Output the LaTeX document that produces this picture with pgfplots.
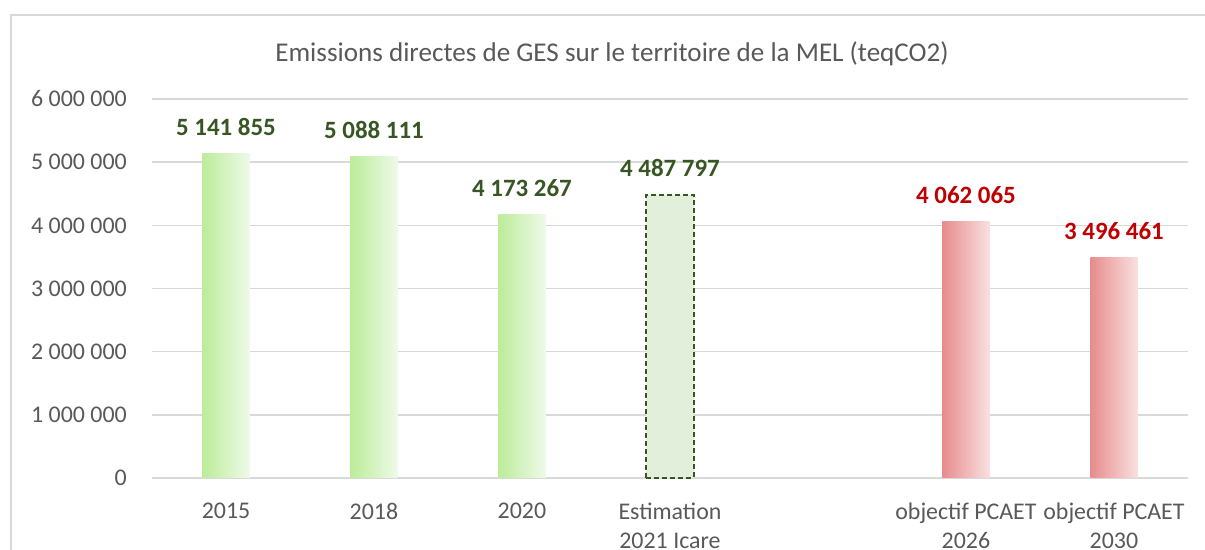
\documentclass[border=0pt]{standalone}
\usepackage{pgfplots}
\pgfplotsset{compat=1.18}
\usepackage{fontspec}
\setmainfont{Carlito}
\definecolor{txt}{HTML}{595959}
\definecolor{gridc}{HTML}{D9D9D9}
\definecolor{gL}{HTML}{BCEC9A}
\definecolor{gR}{HTML}{EEFAE8}
\definecolor{rL}{HTML}{E78C8C}
\definecolor{rR}{HTML}{F9E0E0}
\definecolor{estF}{HTML}{E2EFDA}
\definecolor{dg}{HTML}{375623}
\definecolor{dr}{HTML}{C00000}
\begin{document}
\begin{tikzpicture}
\useasboundingbox (0,0) rectangle (1205bp,550bp);
\fill[white] (0,0) rectangle (1205bp,550bp);
\draw[gridc, line width=2bp] (11bp,0) -- (11bp,535bp) -- (1205bp,535bp);
\node[text=txt, anchor=base, inner sep=0pt, font=\fontsize{27.2}{32}\selectfont] at (612bp,488bp) {Emissions directes de GES sur le territoire de la MEL (teqCO2)};
\begin{axis}[
  at={(152bp,72bp)}, anchor=south west, scale only axis,
  width=1036bp, height=379bp,
  xmin=-0.5, xmax=6.5, ymin=0, ymax=6000000,
  axis line style={draw=none},
  major tick length=0pt,
  ymajorgrids, grid style={gridc, line width=1.5bp},
  ytick={0,1000000,2000000,3000000,4000000,5000000,6000000},
  yticklabels={0,1 000 000,2 000 000,3 000 000,4 000 000,5 000 000,6 000 000},
  scaled y ticks=false,
  yticklabel style={text=txt, font=\fontsize{24}{29}\selectfont, anchor=east, inner sep=0pt, xshift=-25bp},
  xtick={0,1,2,3,5,6},
  xticklabels={2015,2018,2020,Estimation\\2021 Icare,objectif PCAET\\2026,objectif PCAET\\2030},
  xticklabel style={text=txt, font=\fontsize{24}{29}\selectfont, align=center, anchor=north, inner sep=0pt, yshift=-25bp},
  point meta=explicit symbolic,
  nodes near coords={\pgfplotspointmeta},
  every node near coord/.append style={anchor=base, yshift=18bp, inner sep=0pt, font=\bfseries\fontsize{25}{29}\selectfont},
  clip=false,
  greenbar/.style={ybar, bar width=0.318, bar shift=0, draw=none, left color=gL, right color=gR, every node near coord/.append style={text=dg}},
  redbar/.style={ybar, bar width=0.318, bar shift=0, draw=none, left color=rL, right color=rR, every node near coord/.append style={text=dr}},
]
\addplot[greenbar] coordinates {(0,5141855) [5 141 855]};
\addplot[greenbar] coordinates {(1,5088111) [5 088 111]};
\addplot[greenbar] coordinates {(2,4173267) [4 173 267]};
\addplot[ybar, bar width=0.318, bar shift=0, fill=estF, draw=dg, line width=2bp, dash pattern=on 5bp off 3bp, every node near coord/.append style={text=dg}]
  coordinates {(3,4487797) [4 487 797]};
\addplot[redbar] coordinates {(5,4062065) [4 062 065]};
\addplot[redbar] coordinates {(6,3496461) [3 496 461]};
\end{axis}
\end{tikzpicture}
\end{document}
